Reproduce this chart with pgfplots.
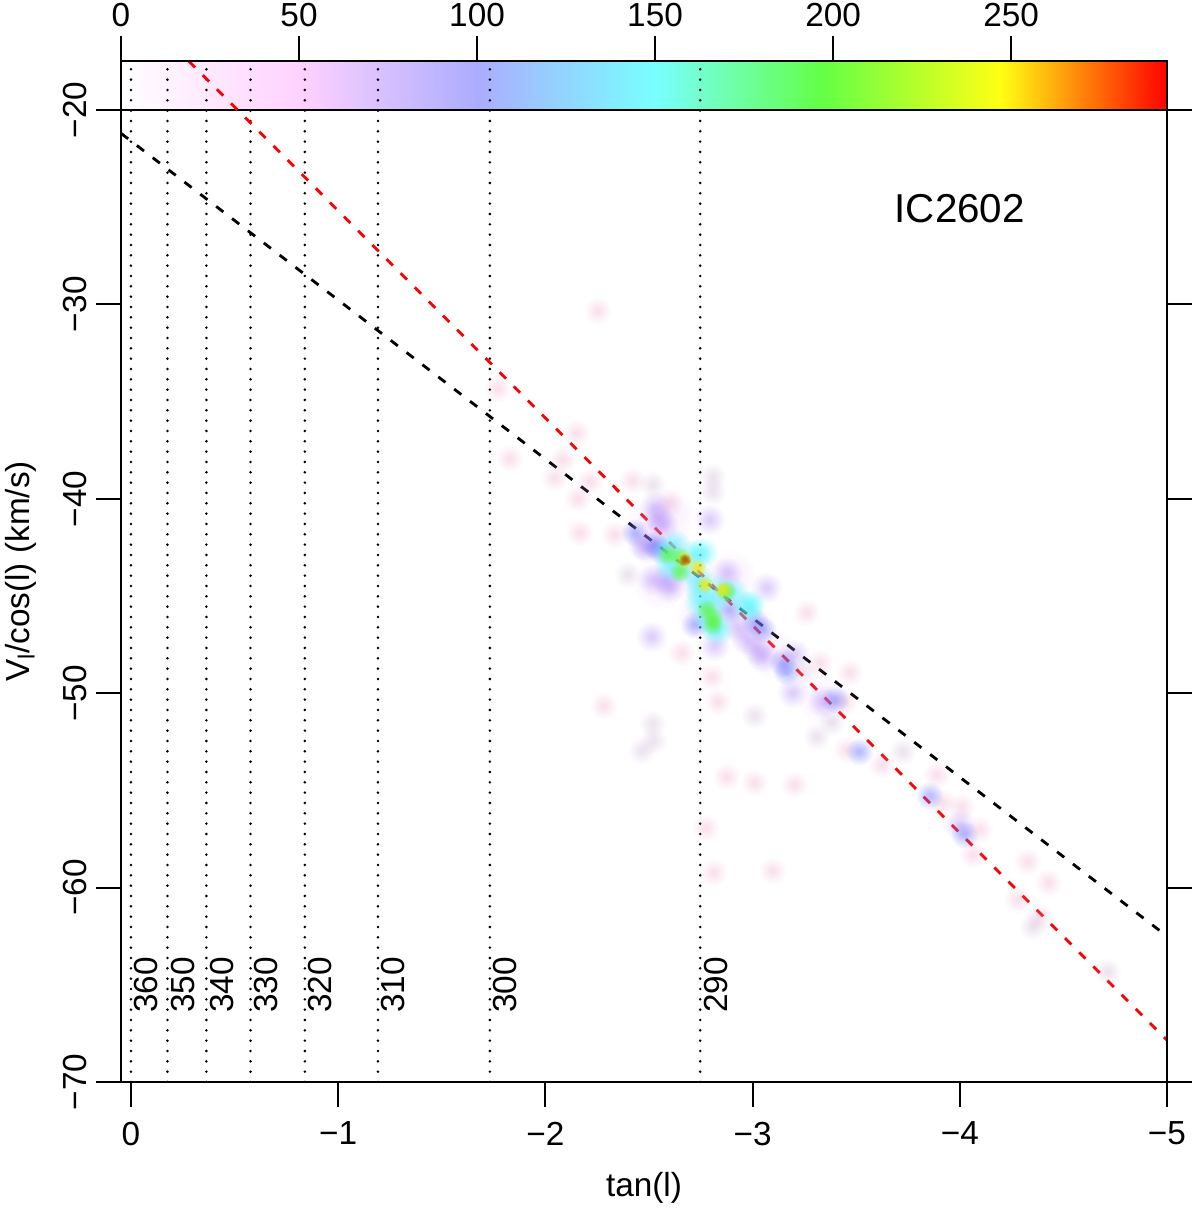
\documentclass[border=0pt]{standalone}
\usepackage{fontspec}
\setmainfont{Liberation Sans}
\usepackage{pgfplots}
\usepackage{pgfplotstable}
\pgfplotsset{compat=1.18}

\newcommand\fz{\fontsize{20}{24}\selectfont}

% soft density spot, built from nested low opacity discs
\pgfdeclareplotmark{blob}{%
  \pgfpathcircle{\pgfpointorigin}{\pgfplotmarksize}\pgfusepathqfill
  \pgfpathcircle{\pgfpointorigin}{0.86\pgfplotmarksize}\pgfusepathqfill
  \pgfpathcircle{\pgfpointorigin}{0.73\pgfplotmarksize}\pgfusepathqfill
  \pgfpathcircle{\pgfpointorigin}{0.61\pgfplotmarksize}\pgfusepathqfill
  \pgfpathcircle{\pgfpointorigin}{0.50\pgfplotmarksize}\pgfusepathqfill
  \pgfpathcircle{\pgfpointorigin}{0.40\pgfplotmarksize}\pgfusepathqfill
  \pgfpathcircle{\pgfpointorigin}{0.30\pgfplotmarksize}\pgfusepathqfill
  \pgfpathcircle{\pgfpointorigin}{0.20\pgfplotmarksize}\pgfusepathqfill
}

\definecolor{lvhaze}{RGB}{225,170,250}
\definecolor{lvone}{RGB}{235,150,190}
\definecolor{lvgrey}{RGB}{190,160,200}
\definecolor{lvtwo}{RGB}{170,130,245}
\definecolor{lvthree}{RGB}{110,120,255}
\definecolor{lvfour}{RGB}{90,245,255}
\definecolor{lvfive}{RGB}{100,250,60}
\definecolor{lvsix}{RGB}{245,235,0}
\definecolor{lvseven}{RGB}{165,90,20}

\pgfplotstableread{
x y
-2.500 -41.50
-2.600 -42.50
-2.700 -44.00
-2.850 -45.50
-3.000 -46.80
-2.750 -46.00
-3.100 -48.00
-3.350 -50.40
-2.900 -44.00
-2.600 -40.80
-2.550 -44.40
}\spotshaze
\pgfplotstableread{
x y
-2.254 -30.34
-1.771 -34.35
-1.829 -37.95
-2.152 -36.62
-2.085 -38.00
-2.046 -38.93
-2.157 -40.01
-2.215 -39.14
-2.423 -39.08
-2.601 -40.22
-2.167 -41.76
-2.336 -41.86
-2.659 -47.93
-2.804 -49.17
-2.283 -50.66
-2.833 -50.45
-3.262 -45.87
-3.325 -48.45
-3.470 -48.96
-3.455 -52.92
-3.890 -54.21
-3.204 -54.72
-4.010 -55.85
-3.919 -55.65
-4.064 -58.32
-4.329 -58.68
-4.430 -59.76
-4.281 -60.64
-4.386 -61.51
-2.876 -54.31
-3.011 -54.62
-2.775 -56.93
-2.814 -59.25
-3.098 -59.15
-3.624 -53.69
-3.446 -50.45
-4.097 -57.04
}\spotsone
\pgfplotstableread{
x y
-2.399 -43.92
-2.519 -39.29
-2.809 -38.88
-2.809 -39.65
-2.519 -51.58
-2.524 -52.46
-2.466 -52.97
-3.243 -48.91
-3.383 -51.53
-3.311 -52.25
-3.726 -53.02
-4.353 -62.03
-4.715 -64.34
-3.011 -51.17
}\spotsgrey
\pgfplotstableread{
x y
-2.514 -47.11
-2.794 -41.09
-2.568 -41.35
-2.490 -42.53
-2.471 -42.38
-2.876 -43.82
-3.069 -44.59
-2.973 -47.26
-3.050 -48.14
-3.021 -47.78
-2.925 -46.59
-2.818 -47.57
-3.204 -48.03
-3.195 -49.99
-3.340 -50.45
-4.001 -56.78
-2.587 -44.18
-2.519 -44.18
-2.601 -44.59
-2.529 -40.42
-2.545 -41.00
}\spotstwo
\pgfplotstableread{
x y
-2.432 -41.76
-2.529 -42.38
-3.011 -46.34
-3.050 -46.75
-3.147 -48.45
-3.166 -48.91
-3.398 -50.35
-3.518 -53.02
-3.856 -55.29
-4.025 -57.29
-2.553 -42.63
-2.891 -45.72
-2.722 -46.49
}\spotsthree
\pgfplotstableread{
x y
-2.625 -42.38
-2.587 -42.79
-2.760 -42.79
-2.722 -42.89
-2.746 -45.36
-2.809 -45.36
-2.905 -44.85
-2.987 -45.46
-2.780 -46.08
-2.664 -43.66
-2.601 -43.51
-2.809 -46.49
-2.833 -46.75
-2.842 -44.69
-2.746 -44.18
-2.746 -44.69
-2.978 -45.57
}\spotsfour
\pgfplotstableread{
x y
-2.650 -42.99
-2.650 -43.77
-2.592 -42.89
-2.780 -45.72
-2.809 -46.49
-2.809 -46.13
-2.876 -44.79
}\spotsfive
\pgfplotstableread{
x y
-2.736 -43.56
-2.857 -44.69
-2.770 -44.43
-2.674 -43.15
}\spotssix
\pgfplotstableread{
x y
-2.674 -43.15
}\spotsseven

\begin{document}
\begin{tikzpicture}
\useasboundingbox (-72.6pt,-76.8pt) rectangle (647.4pt,649.2pt);

% colour scale along the top
\begin{axis}[
  at={(0pt,583.2pt)},
  scale only axis, width=627.6pt, height=29.4pt,
  xmin=0, xmax=293.8, ymin=0, ymax=1,
  ytick=\empty,
  xtick={0,50,100,150,200,250},
  xticklabels={0,50,100,150,200,250},
  xtick pos=top, xticklabel pos=top,
  tick align=outside, major tick length=15pt,
  every tick/.style={black,line width=1.3pt},
  axis line style={line width=1.3pt},
  tick label style={font=\fz},
  xticklabel style={yshift=1.8pt},
  colormap={scale}{rgb255(0)=(255,255,255) rgb255(50)=(255,210,255) rgb255(100)=(172,172,255) rgb255(150)=(120,255,255) rgb255(197)=(100,255,70) rgb255(247)=(255,255,20) rgb255(294)=(255,0,0)},
  axis on top,
]
\addplot[surf,shader=interp,point meta=x] coordinates {
(0,0)(0,1)

(10,0)(10,1)

(20,0)(20,1)

(30,0)(30,1)

(40,0)(40,1)

(50,0)(50,1)

(60,0)(60,1)

(70,0)(70,1)

(80,0)(80,1)

(90,0)(90,1)

(100,0)(100,1)

(110,0)(110,1)

(120,0)(120,1)

(130,0)(130,1)

(140,0)(140,1)

(150,0)(150,1)

(160,0)(160,1)

(170,0)(170,1)

(180,0)(180,1)

(190,0)(190,1)

(200,0)(200,1)

(210,0)(210,1)

(220,0)(220,1)

(230,0)(230,1)

(240,0)(240,1)

(250,0)(250,1)

(260,0)(260,1)

(270,0)(270,1)

(280,0)(280,1)

(294,0)(294,1)
};
\end{axis}

\begin{axis}[
  scale only axis, width=627.6pt, height=612.6pt,
  x dir=reverse,
  xmin=-5, xmax=0.0483, ymin=-70, ymax=-17.479,
  xtick={-5,-4,-3,-2,-1,0},
  xticklabels={−5,−4,−3,−2,−1,0},
  ytick={-70,-60,-50,-40,-30,-20},
  yticklabels={−70,−60,−50,−40,−30,−20},
  xtick pos=bottom, ytick pos=both, yticklabel pos=left,
  tick align=outside, major tick length=15pt,
  every tick/.style={black,line width=1.3pt},
  axis line style={line width=1.3pt},
  tick label style={font=\fz},
  yticklabel style={rotate=90,anchor=base,yshift=5.5pt},
  xticklabel style={yshift=-5.4pt},
  xlabel={tan(l)}, ylabel={V\textsubscript{l}/cos(l) (km/s)},
  label style={font=\fz},
  xlabel style={yshift=-9pt},
  ylabel style={yshift=9.4pt},
  axis on top,
]
\addplot[only marks,mark=blob,mark size=15pt,color=lvhaze,mark options={fill opacity=.03}] table {\spotshaze};
\addplot[only marks,mark=blob,mark size=8pt,color=lvone,mark options={fill opacity=.04}] table {\spotsone};
\addplot[only marks,mark=blob,mark size=8pt,color=lvgrey,mark options={fill opacity=.04}] table {\spotsgrey};
\addplot[only marks,mark=blob,mark size=9pt,color=lvtwo,mark options={fill opacity=.055}] table {\spotstwo};
\addplot[only marks,mark=blob,mark size=8pt,color=lvthree,mark options={fill opacity=.075}] table {\spotsthree};
\addplot[only marks,mark=blob,mark size=9pt,color=lvfour,mark options={fill opacity=.1}] table {\spotsfour};
\addplot[only marks,mark=blob,mark size=6pt,color=lvfive,mark options={fill opacity=.14}] table {\spotsfive};
\addplot[only marks,mark=blob,mark size=5pt,color=lvsix,mark options={fill opacity=.17}] table {\spotssix};
\addplot[only marks,mark=blob,mark size=3.5pt,color=lvseven,mark options={fill opacity=.25}] table {\spotsseven};

% longitude lines
\addplot[black,line width=1.7pt,line cap=round,dash pattern=on 0pt off 6.2pt] coordinates {(0,-70)(0,-17.479)};
\addplot[black,line width=1.7pt,line cap=round,dash pattern=on 0pt off 6.2pt] coordinates {(-0.176,-70)(-0.176,-17.479)};
\addplot[black,line width=1.7pt,line cap=round,dash pattern=on 0pt off 6.2pt] coordinates {(-0.364,-70)(-0.364,-17.479)};
\addplot[black,line width=1.7pt,line cap=round,dash pattern=on 0pt off 6.2pt] coordinates {(-0.577,-70)(-0.577,-17.479)};
\addplot[black,line width=1.7pt,line cap=round,dash pattern=on 0pt off 6.2pt] coordinates {(-0.839,-70)(-0.839,-17.479)};
\addplot[black,line width=1.7pt,line cap=round,dash pattern=on 0pt off 6.2pt] coordinates {(-1.192,-70)(-1.192,-17.479)};
\addplot[black,line width=1.7pt,line cap=round,dash pattern=on 0pt off 6.2pt] coordinates {(-1.732,-70)(-1.732,-17.479)};
\addplot[black,line width=1.7pt,line cap=round,dash pattern=on 0pt off 6.2pt] coordinates {(-2.747,-70)(-2.747,-17.479)};

% fits
\addplot[black,line width=1.7pt,dash pattern=on 5.4pt off 6.6pt] coordinates {(0.0483,-21.2)(-5,-62.5)};
\addplot[red,line width=1.7pt,dash pattern=on 5.4pt off 6.6pt] coordinates {(-0.278,-17.479)(-5,-67.85)};

\node[rotate=90,anchor=base west,font=\fz] at ([xshift=16.2pt]axis cs:0,-66.75) {360};
\node[rotate=90,anchor=base west,font=\fz] at ([xshift=16.2pt]axis cs:-0.176,-66.75) {350};
\node[rotate=90,anchor=base west,font=\fz] at ([xshift=16.2pt]axis cs:-0.364,-66.75) {340};
\node[rotate=90,anchor=base west,font=\fz] at ([xshift=16.2pt]axis cs:-0.577,-66.75) {330};
\node[rotate=90,anchor=base west,font=\fz] at ([xshift=16.2pt]axis cs:-0.839,-66.75) {320};
\node[rotate=90,anchor=base west,font=\fz] at ([xshift=16.2pt]axis cs:-1.192,-66.75) {310};
\node[rotate=90,anchor=base west,font=\fz] at ([xshift=16.2pt]axis cs:-1.732,-66.75) {300};
\node[rotate=90,anchor=base west,font=\fz] at ([xshift=16.2pt]axis cs:-2.747,-66.75) {290};
\node[font=\fontsize{24.2}{28}\selectfont] at (axis cs:-4.0,-25.09) {IC2602};
\end{axis}
\end{tikzpicture}
\end{document}
